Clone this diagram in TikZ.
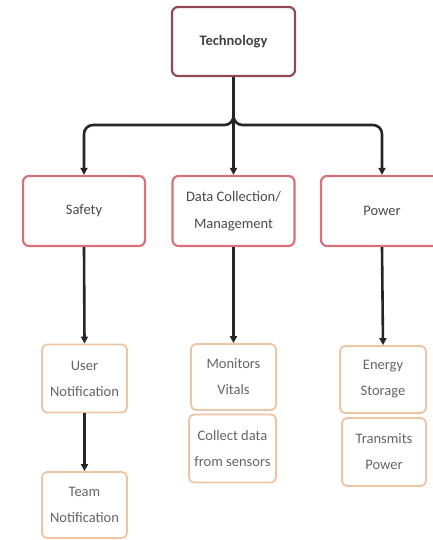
\documentclass[tikz,border=0pt]{standalone}
\usepackage{fontspec}
\setmainfont{Carlito}
\usetikzlibrary{arrows.meta}
\definecolor{techborder}{HTML}{8E4A50}
\definecolor{midborder}{HTML}{D6717A}
\definecolor{lowborder}{HTML}{EEC4A2}
\definecolor{txt}{HTML}{4A4A4A}
\begin{document}
\begin{tikzpicture}[x=1pt,y=-1pt,
  topbox/.style={draw=techborder, line width=2.2pt, rounded corners=6pt, fill=white,
    minimum width=123pt, minimum height=69pt, align=center, font=\fontsize{14.5}{26}\selectfont\bfseries, text=txt!90!black},
  midbox/.style={draw=midborder, line width=2.2pt, rounded corners=6pt, fill=white,
    minimum width=122pt, minimum height=70pt, align=center, font=\fontsize{14.5}{27}\selectfont, text=txt},
  lowbox/.style={draw=lowborder, line width=1.8pt, rounded corners=5pt, fill=white,
    minimum width=85pt, minimum height=68pt, align=center, font=\fontsize{14.5}{26}\selectfont, text=txt!85},
  arr/.style={line width=2.6pt, draw=black!85, -{Triangle[length=7pt,width=7pt]}}]
\useasboundingbox (0,0) rectangle (433,540);
\fill[white] (0,0) rectangle (433,540);

\node[topbox] (tech) at (233.5,41.5) {Technology};
\node[midbox] (safety) at (84,211) {Safety};
\node[midbox] (data) at (233.5,211) {Data Collection/\\Management};
\node[midbox] (power) at (382,211) {Power};

\node[lowbox] (user) at (84.5,378.5) {User\\Notification};
\node[lowbox, minimum height=66pt] (team) at (84.5,505) {Team\\Notification};
\node[lowbox, minimum height=66pt] (mon) at (233.5,377) {Monitors\\Vitals};
\node[lowbox, minimum width=87pt] (coll) at (232.5,448.5) {Collect data\\from sensors};
\node[lowbox, minimum width=86pt, minimum height=67pt] (energy) at (383,379.5) {Energy\\Storage};
\node[lowbox, minimum width=84pt] (trans) at (384,452) {Transmits\\Power};

\coordinate (j) at (233.5,125);
\draw[arr, rounded corners=9pt] (tech.south) -- (j) -| (safety.north);
\draw[arr, rounded corners=9pt] (tech.south) -- (j) -| (power.north);
\draw[arr] (tech.south) -- (data.north);
\draw[arr] (safety.south) -- (user.north);
\draw[arr] (user.south) -- (team.north);
\draw[arr] (data.south) -- (mon.north);
\draw[arr] (power.south) -- (energy.north);
\end{tikzpicture}
\end{document}
